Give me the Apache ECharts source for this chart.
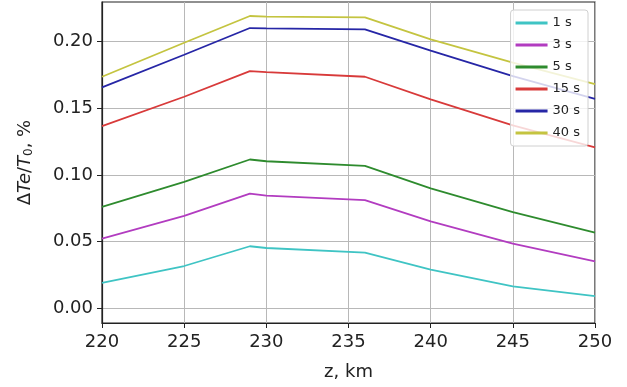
<!DOCTYPE html>
<html>
<head>
<meta charset="utf-8">
<script src="https://cdn.jsdelivr.net/npm/echarts@6/dist/echarts.min.js"></script>
<style>
    html, body { margin: 0; padding: 0; background: #fff; }
    #chart { width: 627px; height: 387px; }
</style>
</head>
<body>
<div id="chart"></div>
<script>
// высоты, км
var z = [220, 225, 229, 230, 236, 240, 245, 250];
var names = ['1 s', '3 s', '5 s', '15 s', '30 s', '40 s'];
var colors = ['#3fc4c4', '#b23cc0', '#2e8b2e', '#d83a3a', '#2626a6', '#c4c440'];
// ΔTe/T0, %
var s1 = [0.019, 0.0317, 0.0465, 0.0452, 0.0418, 0.029, 0.0165, 0.0092];
var s3 = [0.0523, 0.0692, 0.086, 0.0845, 0.081, 0.0652, 0.0485, 0.0352];
var s5 = [0.076, 0.0947, 0.1115, 0.1102, 0.1067, 0.0898, 0.072, 0.0568];
var s15 = [0.1365, 0.1585, 0.1777, 0.177, 0.1735, 0.1565, 0.137, 0.1205];
var s30 = [0.1655, 0.190, 0.210, 0.2097, 0.209, 0.193, 0.174, 0.157];
var s40 = [0.1735, 0.199, 0.219, 0.2185, 0.218, 0.2015, 0.184, 0.168];
var yTicks = [0, 0.05, 0.10, 0.15, 0.20];

(function() {
    var myChart = echarts.init(document.getElementById('chart'));
    var all = [s1, s3, s5, s15, s30, s40];
    var series = all.map(function(vals, k) {
        return {
            name: names[k],
            type: 'line',
            symbol: 'none',
            data: vals.map(function(v, i) { return [z[i], v]; }),
            lineStyle: { width: 1.8, color: colors[k] },
            itemStyle: { color: colors[k] }
        };
    });
    var font = 'DejaVu Sans';
    var option = {
        backgroundColor: '#fff',
        animation: false,
        grid: {
            left: 102, right: 32, top: 2, bottom: 64,
            show: true, borderColor: '#222', borderWidth: 1.2
        },
        legend: {
            data: names,
            orient: 'vertical',
            right: 39, top: 10,
            padding: [6, 8, 6, 5],
            itemGap: 8,
            itemWidth: 32, itemHeight: 3,
            icon: 'rect',
            backgroundColor: 'rgba(255,255,255,0.8)',
            borderColor: '#d0d0d0', borderWidth: 1, borderRadius: 3,
            textStyle: { fontFamily: font, fontSize: 13, color: '#222', lineHeight: 14 }
        },
        xAxis: {
            type: 'value',
            min: 220, max: 250, interval: 5,
            name: 'z, km',
            nameLocation: 'middle',
            nameGap: 40,
            nameTextStyle: { fontFamily: font, fontSize: 18, color: '#222' },
            axisLine: { onZero: false, lineStyle: { color: '#222', width: 1.2 } },
            axisTick: { show: true, length: 5, lineStyle: { color: '#222' } },
            axisLabel: { fontFamily: font, fontSize: 18, color: '#222', margin: 10 },
            splitLine: { show: true, lineStyle: { color: '#b8b8b8', width: 1 } }
        },
        yAxis: {
            type: 'value',
            min: -0.011, max: 0.2295,
            name: '{n|Δ}{i|Te}{n|/}{i|T}{s|0}{n|, %}',
            nameLocation: 'middle',
            nameGap: 67,
            nameRotate: 90,
            nameTextStyle: {
                rich: {
                    n: { fontFamily: font, fontSize: 18, color: '#222' },
                    i: { fontFamily: font, fontSize: 18, color: '#222', fontStyle: 'italic' },
                    s: { fontFamily: font, fontSize: 12, color: '#222', verticalAlign: 'bottom', padding: [7, 0, 0, 0] }
                }
            },
            axisLine: { show: true, onZero: false, lineStyle: { color: '#222', width: 1.2 } },
            axisTick: { show: true, length: 5, customValues: yTicks, lineStyle: { color: '#222' } },
            axisLabel: {
                fontFamily: font, fontSize: 18, color: '#222', margin: 9,
                customValues: yTicks,
                formatter: function(v) { return v.toFixed(2); }
            },
            splitLine: { show: true, lineStyle: { color: '#b8b8b8', width: 1 } }
        },
        series: series
    };
    myChart.setOption(option);
})();
</script>
</body>
</html>
